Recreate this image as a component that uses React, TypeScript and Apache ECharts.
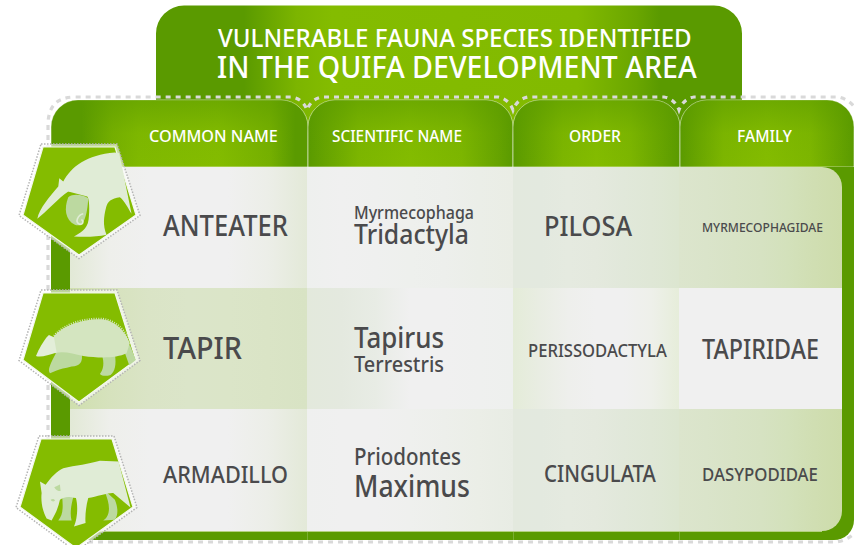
import React, { useEffect, useRef } from "react";
import * as echarts from "echarts";

const titleLines = ["VULNERABLE FAUNA SPECIES IDENTIFIED", "IN THE QUIFA DEVELOPMENT AREA"];
const headers = ["COMMON NAME", "SCIENTIFIC NAME", "ORDER", "FAMILY"];
const commonNames = ["ANTEATER", "TAPIR", "ARMADILLO"];
const scientificFirst = ["Myrmecophaga", "Tapirus", "Priodontes"];
const scientificSecond = ["Tridactyla", "Terrestris", "Maximus"];
const orders = ["PILOSA", "PERISSODACTYLA", "CINGULATA"];
const families = ["MYRMECOPHAGIDAE", "TAPIRIDAE", "DASYPODIDAE"];

const FONT = "'Noto Sans', sans-serif";
const INK = "#4a4a4c";
const DARK = "#5a9a00";
const LIGHT = "#84bc00";
const PALE = "#e0ecd6";
const MID = "#bcd9a0";

const colX = [70, 307, 513, 679, 842];
const rowY = [167, 288, 409, 531];
const headX = [51, 308, 513, 680, 854];

const W = "#f0f0f0";
const cellStops: string[][][] = [
  [["#e2e9d6", "#eeefeb", W, W, W, "#eceee8", "#e3e9d8"], ["#eef0ee", W, "#eff0ef", "#eef0ed", "#edefec", "#ebeee8", "#eaede5"], ["#e3e9de", "#e3e9df", "#e5eae0", "#e4e9de", "#e1e8da", "#dfe7d6", "#dce6d0"], ["#dce5cd", "#dae4ca", "#d8e3c6", "#d6e2c2", "#d3e1bb", "#d0deb2", "#cddcaa"]],
  [["#cfdfae", "#d6e2bd", "#dae4c6", "#dbe5c9", "#dbe5c8", "#dae4c6", "#d8e3c4"], ["#e3e9dc", "#e4e9df", "#e8ece5", W, W, "#eff0ef", "#eef0ee"], ["#e4ecd8", "#e9ede3", "#eeefec", W, W, "#eef0ea", "#e6edda"], [W, W, W, W, W, W, W]],
  [["#e2e9d6", "#eeefeb", W, W, W, "#eceee8", "#e3e9d8"], ["#eff0ef", W, "#f0f0f0", "#eff0ee", "#edefeb", "#ebeee7", "#e8ece4"], ["#e3e9de", "#e3e9df", "#e5eae0", "#e4e9de", "#e1e8da", "#dfe7d6", "#dce6d0"], ["#dce5cd", "#dae4ca", "#d8e3c6", "#d6e2c2", "#d3e1bb", "#d0deb2", "#cddcaa"]],
];

const outline =
  "M48 470 L48 125 Q48 97 75 97 L292 97 Q303 99 307 110 Q311 99 322 97 L498 97 Q509 99 513 110 Q517 99 528 97 L664 97 Q675 99 679 110 Q683 99 694 97 L838 97 Q850 99 858 112 M88 542 L835 542 Q848 541 858 530";

const anteaterBody =
  "M112 657 C118 625 150 590 175 560 L178 535 L190 545 C215 500 260 465 345 458 L358 460 L395 642 C385 625 372 600 360 592 C335 595 322 605 318 625 C312 650 308 675 320 705 C290 712 250 712 222 710 C240 700 262 690 266 660 C270 630 268 595 262 590 L205 575 C175 595 140 635 112 657 Z";
const anteaterLeg = "M205 592 C192 625 195 660 225 675 C250 685 262 650 265 595 C250 585 220 580 205 592 Z";
const anteaterCurl = "M210 545 C224 555 220 575 205 572 M250 642 C235 645 222 668 240 674 C250 674 252 662 244 660";

const armadilloBody =
  "M160 172 C185 140 240 118 300 118 C340 118 375 150 390 190 L380 220 C350 235 300 235 250 228 C220 222 190 212 165 220 Z";
const armadilloHead = "M108 228 C118 205 130 185 140 172 L147 165 L162 172 L170 218 C145 226 120 234 108 228 Z";
const armadilloLegs =
  "M172 212 L245 215 C250 250 240 258 215 260 C195 265 180 268 170 272 L150 280 C142 270 150 255 172 212 Z M305 222 L345 222 C350 255 345 275 332 285 C318 290 305 288 300 282 C310 270 315 250 305 222 Z M372 210 L390 195 L408 240 L388 256 Z";
const armadilloSpines = "M162 168 C190 135 240 116 300 116 C340 116 372 145 388 180";

const tapirBody =
  "M125 640 L120 605 L137 615 C155 590 170 575 190 565 C225 558 270 552 300 543 L356 545 L392 683 L340 640 C330 638 290 650 265 655 C258 680 255 710 257 730 L222 740 C232 720 235 680 228 655 C205 650 195 650 180 660 C175 685 165 705 155 722 L140 716 C128 695 122 665 125 640 Z";
const tapirLegs =
  "M186 645 L222 645 C212 680 210 705 215 722 L175 722 C190 705 190 680 186 645 Z M312 630 L345 660 C355 685 355 705 345 720 L310 722 C330 710 335 680 312 630 Z";
const tapirEar = "M163 622 L180 614 L182 634 C174 634 167 630 163 622 Z";
const tapirEye = "M152 660 C158 656 164 658 165 663 C160 667 155 665 152 660 Z";

const pentagons = [
  { p: [[43, 147], [115, 147], [136, 215], [79, 255], [23, 215]], o: [[41, 144], [117, 144], [140, 215.5], [79, 258.5], [19, 215.5]] },
  { p: [[43, 293], [115, 293], [136, 360], [79, 402], [23, 360]], o: [[41, 290], [117, 290], [140, 360.5], [79, 405.5], [19, 360.5]] },
  { p: [[41, 439], [112, 439], [133, 507], [76, 548], [20, 507]], o: [[39, 436], [114, 436], [137, 507.5], [76, 551.5], [16, 507.5]] },
];

const canvasCtx = document.createElement("canvas").getContext("2d") as CanvasRenderingContext2D;

function fitText(text: string, x1: number, x2: number, yc: number, size: number, fill = INK, weight: any = 500) {
  canvasCtx.font = `${weight} ${size}px 'Noto Sans', sans-serif`;
  const w = canvasCtx.measureText(text).width || 1;
  return {
    type: "text",
    x: x1,
    y: yc - 1,
    scaleX: (x2 - x1) / w,
    scaleY: 1,
    z: 50,
    style: { text, fill, fontFamily: FONT, fontSize: size, fontWeight: weight, textAlign: "left", textVerticalAlign: "middle" },
  };
}

function hGrad(stops: string[]) {
  return new echarts.graphic.LinearGradient(
    0, 0, 1, 0,
    stops.map((color, i) => ({ offset: i / (stops.length - 1), color }))
  );
}

function band(d: [number, string][]) {
  return new echarts.graphic.LinearGradient(0, 0, 1, 0, d.map(([offset, color]) => ({ offset, color })));
}

export default function App() {
  const ref = useRef<HTMLDivElement>(null);
  useEffect(() => {
    document.body.style.margin = "0";
    const shapes: Record<string, string> = {
      outlineDash: outline, anteaterBody, anteaterLeg, anteaterCurl,
      armadilloBody, armadilloHead, armadilloLegs, armadilloSpines,
      tapirBody, tapirLegs, tapirEar, tapirEye,
    };
    Object.keys(shapes).forEach((k) => echarts.graphic.registerShape(k, echarts.graphic.extendPath(shapes[k], {})));

    const chart = echarts.init(ref.current as HTMLDivElement, undefined, { renderer: "svg" });
    const els: any[] = [];

    els.push({
      type: "rect", z: 1,
      shape: { x: 156, y: 5.5, width: 586, height: 130, r: [28, 28, 0, 0] },
      style: { fill: band([[0, DARK], [0.15, DARK], [0.24, "#7cb500"], [0.3, LIGHT], [0.72, "#82ba00"], [0.82, "#6aa600"], [0.86, DARK], [1, DARK]]) },
    });

    const headerBands: [number, string][][] = [
      [[0, DARK], [0.12, DARK], [0.24, "#76b000"], [0.34, "#80b900"], [0.65, LIGHT], [0.85, "#76b000"], [0.95, DARK], [1, DARK]],
      [[0, DARK], [0.08, "#66a300"], [0.25, "#7db600"], [0.5, LIGHT], [0.75, "#7db600"], [0.93, "#66a300"], [1, DARK]],
      [[0, DARK], [0.1, "#66a300"], [0.3, "#7db600"], [0.5, LIGHT], [0.7, "#7db600"], [0.9, "#66a300"], [1, DARK]],
      [[0, DARK], [0.08, "#66a300"], [0.25, "#7db600"], [0.5, LIGHT], [0.75, "#7db600"], [0.92, "#66a300"], [1, DARK]],
    ];
    headers.forEach((_, i) => {
      const x = headX[i];
      const w = headX[i + 1] - x;
      const r = [27, 27, 0, 0];
      els.push({
        type: "rect", z: 3,
        shape: { x, y: 100, width: w, height: 67, r },
        style: { fill: band(headerBands[i]), stroke: "rgba(255,255,255,0.55)", lineWidth: 1 },
      });
      els.push({
        type: "rect", z: 4,
        shape: { x, y: 100, width: w, height: 67, r },
        style: {
          fill: new echarts.graphic.LinearGradient(0, 0, 0, 1, [
            { offset: 0, color: "rgba(90,154,0,0.55)" },
            { offset: 0.5, color: "rgba(90,154,0,0.08)" },
            { offset: 1, color: "rgba(90,154,0,0)" },
          ]),
        },
      });
    });

    els.push({
      type: "rect", z: 4.5,
      shape: { x: 51, y: 167, width: 803, height: 373, r: [0, 0, 20, 20] },
      style: { fill: DARK },
    });

    cellStops.forEach((row, ri) => {
      row.forEach((stops, ci) => {
        const r = ri === 0 && ci === 3 ? [0, 20, 0, 0] : ri === 2 && ci === 3 ? [0, 0, 20, 0] : 0;
        els.push({
          type: "rect", z: 5,
          shape: { x: colX[ci], y: rowY[ri], width: colX[ci + 1] - colX[ci], height: rowY[ri + 1] - rowY[ri], r },
          style: { fill: hGrad(stops) },
        });
      });
    });
    els.push({ type: "line", z: 6, shape: { x1: 70, y1: 531.5, x2: 822, y2: 531.5 }, style: { stroke: "#b4d080", lineWidth: 1 } });
    colX.slice(1, 4).forEach((x) =>
      els.push({ type: "line", z: 6, shape: { x1: x + 0.5, y1: 532, x2: x + 0.5, y2: 540 }, style: { stroke: "rgba(255,255,255,0.2)", lineWidth: 1 } })
    );

    els.push({
      type: "outlineDash", z: 8, x: 0, y: 0,
      style: { fill: "none", stroke: "#d9d9d9", lineWidth: 3.2, lineDash: [5, 5] },
    });

    pentagons.forEach(({ p, o }) => {
      els.push({ type: "polygon", z: 10, shape: { points: o }, style: { fill: "rgba(255,255,255,0.6)", stroke: "#b4b4b4", lineWidth: 1.5, lineDash: [1.5, 1.5] } });
      els.push({ type: "polygon", z: 11, shape: { points: p }, style: { fill: LIGHT, stroke: "#f4f8ee", lineWidth: 1.2 } });
    });

    const art = (type: string, offY: number, style: any, z = 12) => ({ type, z, x: 0, y: offY, scaleX: 1 / 3, scaleY: 1 / 3, style });
    els.push(art("anteaterBody", 0, { fill: PALE }));
    els.push(art("anteaterLeg", 0, { fill: MID }, 13));
    els.push(art("anteaterCurl", 0, { fill: "none", stroke: PALE, lineWidth: 5 }, 14));
    els.push(art("armadilloLegs", 280, { fill: MID }));
    els.push(art("armadilloBody", 280, { fill: "#d4e5c0" }, 13));
    els.push(art("armadilloHead", 280, { fill: "#e3eed8" }, 14));
    els.push(art("armadilloSpines", 280, { fill: "none", stroke: "#d4e5c0", lineWidth: 6, lineDash: [3, 4] }, 13));
    els.push(art("tapirLegs", 280, { fill: MID }));
    els.push(art("tapirBody", 280, { fill: PALE }, 13));
    els.push(art("tapirEar", 280, { fill: MID }, 14));
    els.push(art("tapirEye", 280, { fill: MID }, 14));

    els.push(fitText(titleLines[0], 218, 692, 37.5, 26, "#ffffff"));
    els.push(fitText(titleLines[1], 217, 697, 67.5, 31, "#ffffff"));

    const headSpan = [[149, 278], [332, 462], [569, 621], [737, 792]];
    headers.forEach((h, i) => els.push(fitText(h, headSpan[i][0], headSpan[i][1], 136.5, 17, "#ffffff")));

    els.push(fitText(commonNames[0], 163, 288, 225.5, 29));
    els.push(fitText(commonNames[1], 163, 242, 348.5, 31));
    els.push(fitText(commonNames[2], 163, 288, 475.5, 24));
    const firstSpan = [[354, 474, 213, 18], [354, 444, 338, 29], [354, 461, 457, 23]];
    const secondSpan = [[354, 469, 235, 27], [354, 444, 365, 22], [354, 470, 486, 30]];
    scientificFirst.forEach((t, i) => els.push(fitText(t, firstSpan[i][0], firstSpan[i][1], firstSpan[i][2], firstSpan[i][3])));
    scientificSecond.forEach((t, i) => els.push(fitText(t, secondSpan[i][0], secondSpan[i][1], secondSpan[i][2], secondSpan[i][3])));
    const orderSpan = [[544, 632, 226, 28], [528, 667, 351, 18], [544, 656, 474, 24]];
    orders.forEach((t, i) => els.push(fitText(t, orderSpan[i][0], orderSpan[i][1], orderSpan[i][2], orderSpan[i][3])));
    const familySpan = [[702, 823, 228, 13], [702, 819, 349.5, 27], [702, 818, 474.5, 18]];
    families.forEach((t, i) => els.push(fitText(t, familySpan[i][0], familySpan[i][1], familySpan[i][2], familySpan[i][3])));

    chart.setOption({ animation: false, graphic: { elements: els } });
    return () => chart.dispose();
  }, []);
  return <div ref={ref} style={{ position: "absolute", left: 0, top: 0, width: 854, height: 545, background: "#fff", overflow: "hidden" }} />;
}
